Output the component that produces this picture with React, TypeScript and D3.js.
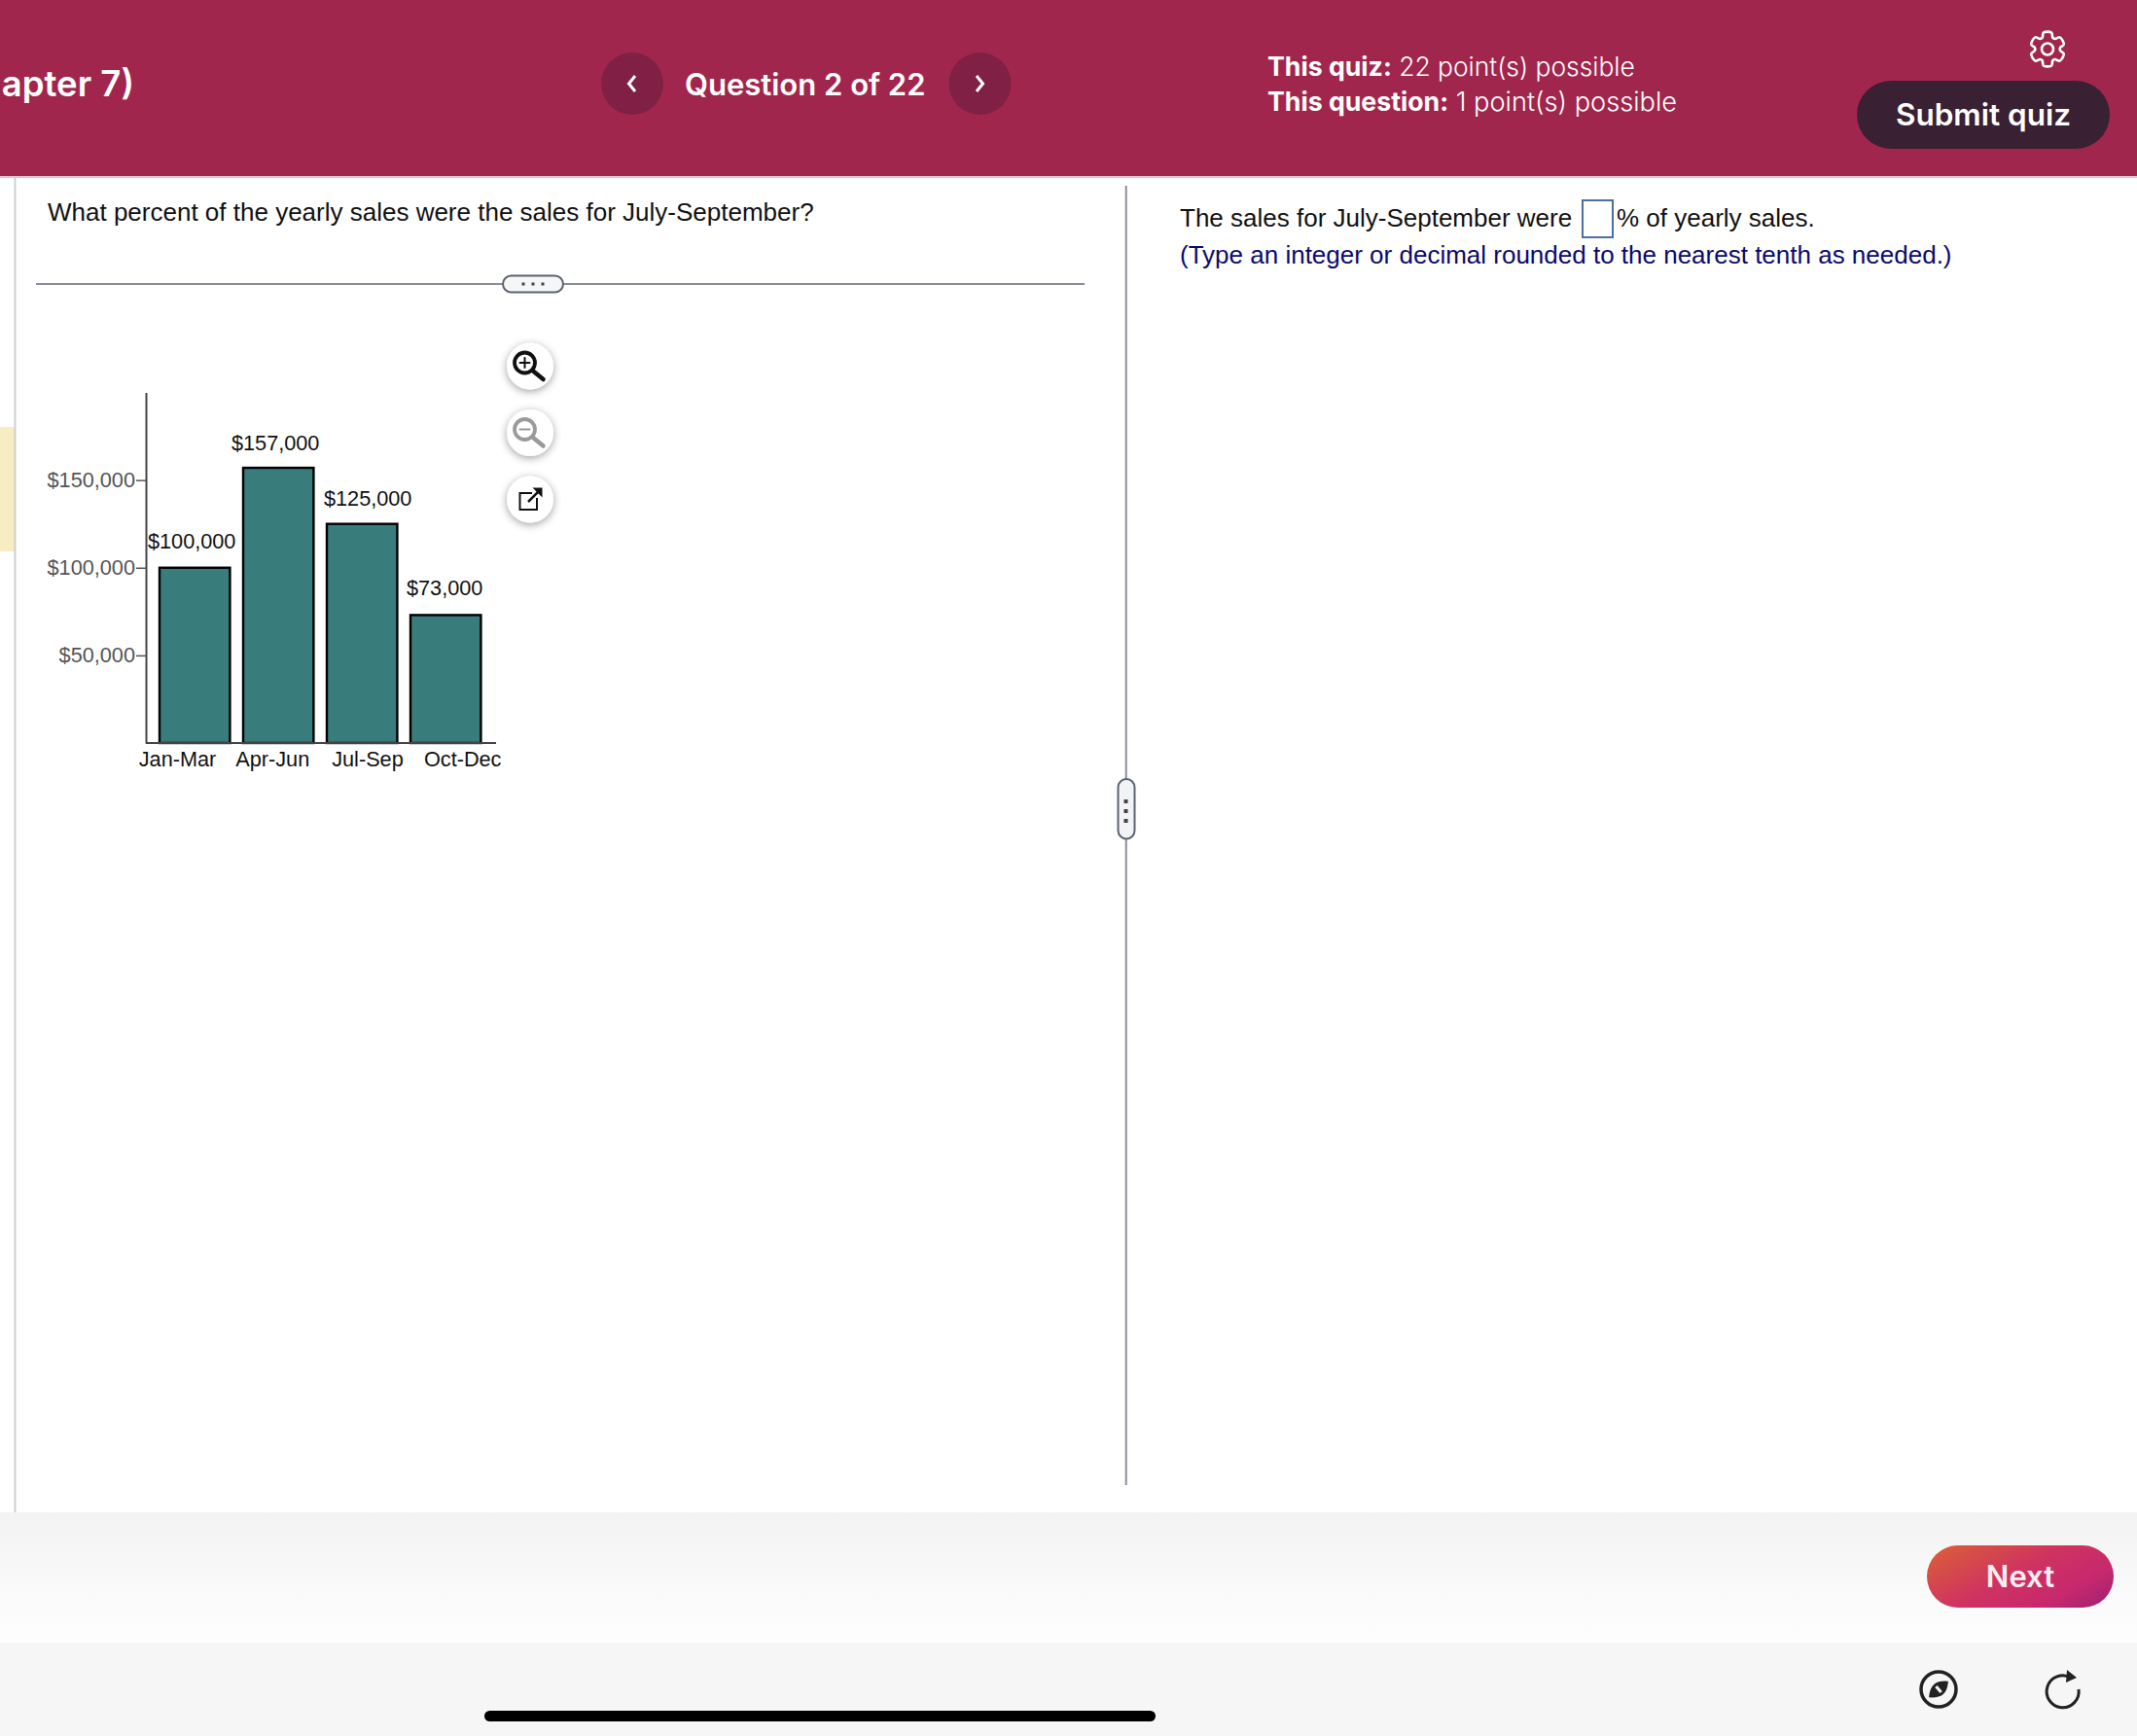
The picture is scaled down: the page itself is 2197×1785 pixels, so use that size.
import { useRef, useEffect } from "react";
import * as d3 from "d3";

const quarters = ["Jan-Mar", "Apr-Jun", "Jul-Sep", "Oct-Dec"];
const sales = [100000, 157000, 125000, 73000];
const yTicks = [50000, 100000, 150000];
const labelNudge = [-3, -3, 6, -1];
const labelLift = [20, 18.5, 18.5, 20.7];

const HELV = "'Liberation Sans', Arial, sans-serif";
const UI = "Inter, 'Liberation Sans', sans-serif";
const money = (v: number) => "$" + d3.format(",")(v);

function BarChart() {
  const gRef = useRef<SVGGElement>(null);

  useEffect(() => {
    if (!gRef.current) return;
    const g = d3.select(gRef.current);
    g.selectAll("*").remove();

    const axisX = 150;
    const baseY = 764;
    const y = d3.scaleLinear().domain([0, 200000]).range([baseY, 403.5]);
    const x = d3.scaleBand<string>().domain(quarters).range([164, 494.4]).paddingInner(0.158);
    // category labels sit on their own wider spacing in the original
    const xLabel = d3.scalePoint<string>().domain(quarters).range([182, 475.2]);

    // Bars
    g.selectAll("rect.bar")
      .data(quarters)
      .join("rect")
      .attr("class", "bar")
      .attr("x", (d) => x(d) ?? 0)
      .attr("y", (_, i) => y(sales[i]))
      .attr("width", x.bandwidth())
      .attr("height", (_, i) => baseY - y(sales[i]))
      .attr("fill", "#387c7b")
      .attr("stroke", "#000")
      .attr("stroke-width", 2.4);

    // Value labels
    g.selectAll("text.val")
      .data(quarters)
      .join("text")
      .attr("class", "val")
      .attr("x", (d, i) => (x(d) ?? 0) + x.bandwidth() / 2 + labelNudge[i])
      .attr("y", (_, i) => y(sales[i]) - labelLift[i])
      .attr("text-anchor", "middle")
      .attr("fill", "#111")
      .attr("font-family", HELV)
      .attr("font-size", 21.7)
      .text((_, i) => money(sales[i]));

    // Y axis
    const yAxis = g.append("g")
      .attr("transform", `translate(${axisX},0)`)
      .call(d3.axisLeft(y).tickValues(yTicks).tickSize(10).tickPadding(1).tickFormat((d) => money(+d)).tickSizeOuter(0));
    yAxis.select(".domain").attr("stroke", "#444").attr("stroke-width", 2);
    yAxis.selectAll(".tick line").attr("stroke", "#555").attr("stroke-width", 1.5);
    yAxis.selectAll(".tick text")
      .attr("fill", "#555")
      .attr("font-family", HELV)
      .attr("font-size", 21.7);

    // X axis
    const xAxis = g.append("g")
      .attr("transform", `translate(0,${baseY})`)
      .call(d3.axisBottom(xLabel).tickSize(0).tickPadding(9));
    xAxis.select(".domain").remove();
    xAxis.selectAll(".tick text")
      .attr("fill", "#111")
      .attr("font-family", HELV)
      .attr("font-size", 21.7);
    g.append("line")
      .attr("x1", axisX).attr("x2", 510)
      .attr("y1", baseY).attr("y2", baseY)
      .attr("stroke", "#444").attr("stroke-width", 2);
  }, []);

  return <g ref={gRef} />;
}

function RoundButton({ cy, children }: { cy: number; children: React.ReactNode }) {
  return (
    <g>
      <circle cx={545} cy={cy} r={24} fill="#fff" filter="url(#btnShadow)" />
      {children}
    </g>
  );
}

function Magnifier({ cy, color, plus }: { cy: number; color: string; plus: boolean }) {
  const cx = 539.5;
  const ly = cy - 3.5;
  return (
    <g stroke={color} fill="none" strokeLinecap="round">
      <circle cx={cx} cy={ly} r={10.5} strokeWidth={3.8} />
      <line x1={cx + 8} y1={ly + 8} x2={cx + 19} y2={ly + 17} strokeWidth={4.5} />
      <line x1={cx - 5} y1={ly} x2={cx + 5} y2={ly} strokeWidth={2} />
      {plus && <line x1={cx} y1={ly - 5} x2={cx} y2={ly + 5} strokeWidth={2} />}
    </g>
  );
}

// six-tooth gear outline, radii in px around the icon centre
const gearPoints: [number, number][] = d3.range(0, 6).flatMap((i) => {
  const a = (i * Math.PI) / 3;
  return [
    [a - 0.24, 17.5],
    [a + 0.24, 17.5],
    [a + 0.42, 13],
    [a + Math.PI / 3 - 0.42, 13],
  ] as [number, number][];
});
const gearPath = d3.lineRadial().curve(d3.curveCatmullRomClosed.alpha(0.5))(gearPoints) ?? "";

export default function App() {
  return (
    <svg
      width={2197}
      height={1785}
      viewBox="0 0 2197 1785"
      style={{ position: "absolute", left: 0, top: 0, display: "block", background: "#fff" }}
    >
      <defs>
        <filter id="btnShadow" x="-40%" y="-40%" width="180%" height="180%">
          <feDropShadow dx="0" dy="2" stdDeviation="4" floodColor="#000" floodOpacity="0.38" />
        </filter>
        <linearGradient id="footerBg" x1="0" y1="0" x2="0" y2="1">
          <stop offset="0" stopColor="#f3f3f3" />
          <stop offset="1" stopColor="#fefefe" />
        </linearGradient>
        <linearGradient id="nextBg" x1="0" y1="0.2" x2="1" y2="0.8">
          <stop offset="0" stopColor="#d95a3c" />
          <stop offset="0.45" stopColor="#cf3360" />
          <stop offset="0.8" stopColor="#c7286e" />
          <stop offset="1" stopColor="#a82370" />
        </linearGradient>
      </defs>

      {/* header */}
      <rect x={0} y={0} width={2197} height={181} fill="#a1264d" />
      <rect x={0} y={181} width={2197} height={2} fill="#e5c3d1" />
      <text x={138} y={99} textAnchor="end" fill="#fff" fontFamily={UI} fontWeight={600} fontSize={36.5}>apter 7)</text>

      <circle cx={650} cy={86} r={32} fill="#802044" />
      <path d="M653 78 L646.5 86 L653 94" fill="none" stroke="#fff" strokeWidth={3} />
      <circle cx={1007.5} cy={86} r={32} fill="#802044" />
      <path d="M1004 78 L1010.5 86 L1004 94" fill="none" stroke="#fff" strokeWidth={3} />
      <text x={704} y={98} fill="#fff" fontFamily={UI} fontWeight={600} fontSize={31}>Question 2 of 22</text>

      <text x={1303} y={78} fill="#fff" fontFamily={UI} fontSize={26.4} fontWeight={300}>
        <tspan fontWeight={700} fontSize={26.7}>This quiz:</tspan> 22 point(s) possible
      </text>
      <text x={1303} y={114} fill="#fff" fontFamily={UI} fontSize={27.2} fontWeight={300}>
        <tspan fontWeight={700} fontSize={26.7}>This question:</tspan> 1 point(s) possible
      </text>

      <g stroke="#fff" fill="none" strokeWidth={2.6} transform="translate(2105,50.5)">
        <path d={gearPath} strokeLinejoin="round" />
        <circle r={6} />
      </g>

      <rect x={1909} y={83} width={260} height={70} rx={35} fill="#3a2033" />
      <text x={2039} y={129} textAnchor="middle" fill="#fff" fontFamily={UI} fontWeight={600} fontSize={31.5}>Submit quiz</text>

      {/* panel frame */}
      <rect x={0} y={439} width={15} height={128} fill="#f7ecc2" />
      <line x1={15.5} x2={15.5} y1={183} y2={1555} stroke="#cfcfd2" strokeWidth={2} />
      <text x={49} y={227} fill="#111" fontFamily={HELV} fontSize={26}>What percent of the yearly sales were the sales for July-September?</text>

      <line x1={37} x2={1115} y1={292} y2={292} stroke="#8a8d9b" strokeWidth={2} />
      <rect x={517} y={283.5} width={62} height={17} rx={8.5} fill="#f5f6f8" stroke="#5d6370" strokeWidth={2} />
      {[-10, 0, 10].map((d) => (
        <rect key={d} x={546.5 + d} y={290.5} width={3} height={3} fill="#444" />
      ))}

      <line x1={1157.7} x2={1157.7} y1={191} y2={1527} stroke="#8a8d9b" strokeWidth={2} />
      <rect x={1149.5} y={801} width={17} height={61.5} rx={8.5} fill="#f2f3f6" stroke="#5d6370" strokeWidth={2} />
      {[-10, 0, 10].map((d) => (
        <rect key={d} x={1155.5} y={832 + d} width={4} height={4} fill="#444" />
      ))}

      {/* chart */}
      <BarChart />

      <RoundButton cy={376.5}><Magnifier cy={376.5} color="#111" plus /></RoundButton>
      <RoundButton cy={445}><Magnifier cy={445} color="#9a9a9a" plus={false} /></RoundButton>
      <RoundButton cy={513.5}>
        <path d="M547 507 H534.5 V524 H552 V512" fill="none" stroke="#111" strokeWidth={2} />
        <path d="M543 516 L554 505" stroke="#111" strokeWidth={2.5} />
        <path d="M547.5 501.5 H557.5 V511.5 Z" fill="#111" />
      </RoundButton>

      {/* answer side */}
      <text x={1213} y={233} fill="#111" fontFamily={HELV} fontSize={26}>The sales for July-September were</text>
      <rect x={1627} y={206} width={31} height={38} fill="#fff" stroke="#4a6fa5" strokeWidth={2} />
      <text x={1662} y={233} fill="#111" fontFamily={HELV} fontSize={26}>% of yearly sales.</text>
      <text x={1213} y={271} fill="#0a0a6e" fontFamily={HELV} fontSize={26}>(Type an integer or decimal rounded to the nearest tenth as needed.)</text>

      {/* footer */}
      <rect x={0} y={1555} width={2197} height={134} fill="url(#footerBg)" />
      <rect x={0} y={1689} width={2197} height={96} fill="#f6f6f6" />
      <rect x={1981} y={1589} width={192} height={64} rx={32} fill="url(#nextBg)" />
      <text x={2077} y={1632} textAnchor="middle" fill="#fbeef2" fontFamily={UI} fontWeight={600} fontSize={31}>Next</text>

      <circle cx={1993} cy={1737} r={18} fill="none" stroke="#222" strokeWidth={3.5} />
      <g transform="rotate(50 1993 1737)">
        <path d="M1986 1737 Q1986 1731 1993 1724 Q2000 1731 2000 1737 Q2000 1743 1993 1750 Q1986 1743 1986 1737 Z" fill="#222" />
        <rect x={1989} y={1735.5} width={8} height={3} fill="#f6f6f6" />
      </g>
      <path d="M2129 1725 A16.5 16.5 0 1 0 2137 1737" fill="none" stroke="#222" strokeWidth={3} />
      <path d="M2125 1717 L2135 1725 L2124 1730 Z" fill="#222" />

      <rect x={498} y={1759} width={690} height={11} rx={5.5} fill="#000" />
    </svg>
  );
}
